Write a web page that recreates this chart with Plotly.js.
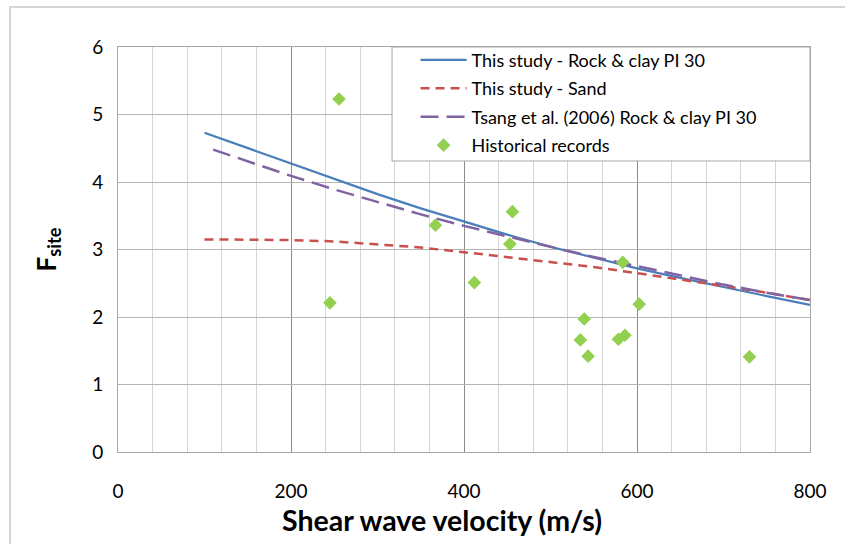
<!DOCTYPE html>
<html>
<head>
<meta charset="utf-8">
<script src="https://cdn.plot.ly/plotly-3.0.1.min.js"></script>
<style>
  html, body { margin: 0; padding: 0; background: #ffffff; overflow: hidden; }
  #wrap { position: relative; width: 845px; height: 544px; }
  #chart { position: absolute; left: 0; top: 0; width: 845px; height: 544px; }
  #frame { position: absolute; left: 9px; top: 6px; width: 900px; height: 600px;
           border-left: 2px solid #d6d6d6; border-top: 2px solid #d6d6d6; pointer-events: none; }
</style>
</head>
<body>
<div id="wrap">
  <div id="chart"></div>
  <div id="frame"></div>
</div>
<script>
// ---- Data ----
const rockV    = [100, 150, 200, 250, 300, 350, 400, 450, 500, 550, 600, 650, 700, 750, 800];
const rockF    = [4.73, 4.50, 4.27, 4.04, 3.82, 3.61, 3.41, 3.22, 3.04, 2.88, 2.72, 2.58, 2.44, 2.31, 2.18];

const sandV    = [100, 150, 200, 250, 300, 350, 400, 450, 500, 550, 600, 650, 700, 750, 800];
const sandF    = [3.15, 3.15, 3.14, 3.12, 3.08, 3.03, 2.96, 2.89, 2.82, 2.74, 2.65, 2.56, 2.46, 2.36, 2.25];

const tsangV   = [110, 150, 200, 250, 300, 350, 400, 450, 500, 550, 600, 650, 700, 750, 800];
const tsangF   = [4.48, 4.31, 4.09, 3.89, 3.70, 3.52, 3.35, 3.19, 3.04, 2.89, 2.75, 2.61, 2.48, 2.36, 2.25];

const histV    = [245, 255.5, 367, 412, 453, 456, 534.5, 539, 543.5, 578.5, 583.5, 586, 602.5, 730];
const histF    = [2.21, 5.23, 3.36, 2.51, 3.08, 3.56, 1.66, 1.97, 1.42, 1.67, 2.81, 1.73, 2.19, 1.41];

const seriesNames = [
  'This study - Rock & clay PI 30',
  'This study - Sand',
  'Tsang et al. (2006) Rock & clay PI 30',
  'Historical records'
];
const xTitle = 'Shear wave velocity (m/s)';
const yTitle = '<b>F<sub>site</sub></b>';

const FONT = 'Lato, "Open Sans", sans-serif';

const traces = [
  { x: rockV, y: rockF, name: seriesNames[0], mode: 'lines', legendgroup: 'a',
    line: { color: '#4a7ebb', width: 2.2 } },
  { x: sandV, y: sandF, name: seriesNames[1], mode: 'lines', legendgroup: 'b',
    line: { color: '#c8504d', width: 2.5, dash: '9px,6px' } },
  { x: tsangV, y: tsangF, name: seriesNames[2], mode: 'lines', legendgroup: 'c',
    line: { color: '#8064a2', width: 2.5, dash: '18px,8px' } },
  { x: histV, y: histF, name: seriesNames[3], mode: 'markers', legendgroup: 'd',
    marker: { symbol: 'diamond', color: '#92d050', size: 10.5 } }
];

const layout = {
  width: 845, height: 544,
  margin: { l: 118, r: 35, t: 47, b: 92 },
  paper_bgcolor: '#ffffff', plot_bgcolor: '#ffffff',
  font: { family: FONT, color: '#000000' },
  showlegend: true,
  legend: {
    x: 0.430, xanchor: 'left', y: 1.013, yanchor: 'top',
    bgcolor: 'rgba(0,0,0,0)', borderwidth: 0,
    font: { family: FONT, size: 18, color: '#000000' },
    traceorder: 'grouped', tracegroupgap: 2, itemwidth: 46
  },
  xaxis: {
    range: [0, 800], dtick: 200, tick0: 0,
    showgrid: true, gridcolor: '#8c8c8c', gridwidth: 1,
    minor: { dtick: 40, showgrid: true, gridcolor: '#d6d6d6', gridwidth: 1 },
    zeroline: false, showline: true, mirror: true, linecolor: '#a6a6a6', linewidth: 1,
    ticks: '', ticklabelstandoff: 22,
    tickfont: { family: FONT, size: 19, color: '#000000' }
  },
  yaxis: {
    range: [0, 6], dtick: 1, tick0: 0,
    showgrid: true, gridcolor: '#b4b4b4', gridwidth: 1,
    zeroline: false, showline: true, mirror: true, linecolor: '#a6a6a6', linewidth: 1,
    ticks: '', ticklabelstandoff: 10,
    tickfont: { family: FONT, size: 19, color: '#000000' },
    title: { text: yTitle, font: { family: FONT, size: 26, color: '#000000' }, standoff: 28 }
  },
  annotations: [
    { text: '<b>' + xTitle + '</b>', xref: 'paper', yref: 'paper',
      x: 0.468, y: -0.168, xanchor: 'center', yanchor: 'middle', showarrow: false,
      font: { family: FONT, size: 28.5, color: '#000000' } }
  ],
  shapes: [
    { type: 'rect', xref: 'paper', yref: 'paper', layer: 'above',
      x0: 0.396, x1: 1.0, y0: 0.7185, y1: 1.0,
      fillcolor: '#ffffff', line: { color: '#a6a6a6', width: 1 } }
  ]
};

Plotly.newPlot('chart', traces, layout, { staticPlot: true, displayModeBar: false });
</script>
</body>
</html>
